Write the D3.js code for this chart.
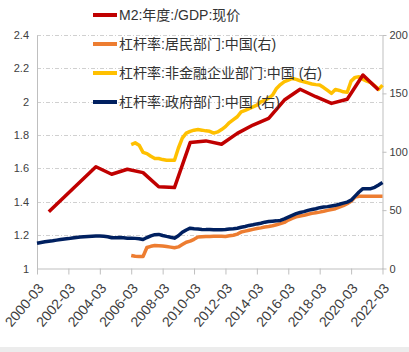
<!DOCTYPE html>
<html>
<head>
<meta charset="utf-8">
<script src="https://cdn.jsdelivr.net/npm/d3@7"></script>
<style>
  body { margin: 0; background: #fff; }
  svg { display: block; font-family: "Liberation Sans", Arial, "Noto Sans CJK SC", sans-serif; }
</style>
</head>
<body>
<svg id="chart" width="409" height="352"></svg>
<script>
// series names (legend)
const seriesNames = [
  "M2:年度:/GDP:现价",
  "杠杆率:居民部门:中国(右)",
  "杠杆率:非金融企业部门:中国 (右)",
  "杠杆率:政府部门:中国 (右)"
];

// M2/GDP, yearly (december), 2000 - 2021, left axis
const m2Years = [2000, 2001, 2002, 2003, 2004, 2005, 2006, 2007, 2008, 2009, 2010,
  2011, 2012, 2013, 2014, 2015, 2016, 2017, 2018, 2019, 2020, 2021];
const m2Values = [1.34, 1.43, 1.52, 1.61, 1.565, 1.595, 1.575, 1.49, 1.485, 1.755, 1.765,
  1.745, 1.81, 1.86, 1.90, 2.01, 2.075, 2.03, 1.99, 2.015, 2.16, 2.07];

// quarterly series (right axis)
// government: 2000-03 .. 2022-03
const govStart = "2000-03";
const govValues = [
  21.7, 22.3, 22.9, 23.4,
  23.8, 24.3, 24.8, 25.2,
  25.6, 26.1, 26.5, 26.9,
  27.2, 27.5, 27.7, 27.8,
  27.8, 27.6, 27.2, 26.4,
  26.4, 26.6, 26.3, 26.0,
  26.0, 25.8, 25.5, 24.8,
  26.5, 28.0, 29.0, 29.2,
  28.3, 27.5, 26.8, 26.0,
  28.0, 31.0, 33.0, 34.5,
  34.0, 33.8, 33.5, 33.3,
  33.3, 33.2, 33.2, 33.2,
  33.4, 33.8, 34.1, 34.5,
  35.3, 36.0, 36.9, 37.5,
  38.2, 38.8, 39.7, 40.2,
  40.5, 40.8, 41.2, 42.5,
  44.0, 45.5, 47.0, 48.0,
  48.7, 49.8, 50.5, 51.2,
  52.1, 52.6, 53.0, 53.6,
  54.1, 55.0, 56.0, 56.9,
  58.5, 62.0, 65.5, 68.4,
  68.4, 68.4, 69.5, 71.5,
  73.6
];
// household: 2006-03 .. 2022-03
const hhStart = "2006-03";
const hhValues = [
  11.2, 10.5, 10.3, 10.3,
  18.0, 19.0, 19.7, 19.5,
  19.2, 18.8, 18.3, 17.8,
  18.5, 20.5, 22.5, 23.4,
  25.0, 26.9, 27.2, 27.5,
  27.5, 27.6, 27.7, 27.6,
  27.5, 28.0, 28.5, 29.5,
  31.2, 32.0, 32.8, 33.5,
  34.2, 34.8, 35.5, 36.0,
  36.6, 37.5, 38.4, 39.5,
  41.5, 43.0, 44.2, 45.0,
  45.5, 46.5, 47.2, 47.8,
  48.3, 49.0, 49.8, 50.5,
  51.2, 52.5, 53.8, 55.5,
  57.5, 61.2, 61.8, 61.8,
  61.8, 61.8, 61.8, 61.8,
  61.8
];
// non-financial corporate: 2006-03 .. 2022-03
const corpStart = "2006-03";
const corpValues = [
  106.2, 107.6, 105.6, 99.5,
  98.4, 96.1, 94.2, 94.2,
  93.3, 92.7, 92.7, 92.7,
  103.0, 111.6, 115.9, 117.5,
  118.5, 119.0, 118.5, 117.9,
  117.5, 116.0, 117.0, 119.0,
  121.5, 125.0, 127.5, 130.0,
  134.2, 135.5, 137.0, 138.5,
  140.0, 142.8, 144.0, 146.0,
  148.5, 154.2, 157.5, 160.0,
  161.4, 162.8, 162.0, 160.8,
  160.0, 159.0, 158.0, 157.5,
  157.1, 155.0, 152.5, 150.0,
  153.4, 152.5, 151.3, 151.0,
  160.5, 163.7, 164.2, 162.0,
  160.5, 159.1, 156.5, 153.4,
  157.1
];

const xTickLabels = ["2000-03", "2002-03", "2004-03", "2006-03", "2008-03", "2010-03",
  "2012-03", "2014-03", "2016-03", "2018-03", "2020-03", "2022-03"];
const leftTicks = [1, 1.2, 1.4, 1.6, 1.8, 2, 2.2, 2.4];
const rightTicks = [0, 50, 100, 150, 200];

const colors = ["#C00000", "#ED7D31", "#FFC000", "#002060"];

const parseYM = d3.timeParse("%Y-%m");

// quarter dates from a start month
function quarterly(start, values) {
  const d0 = parseYM(start);
  return values.map((v, i) => ({ date: d3.timeMonth.offset(d0, i * 3), value: v }));
}

const m2Data = m2Years.map((y, i) => ({ date: new Date(y, 11, 1), value: m2Values[i] }));
const govData = quarterly(govStart, govValues);
const hhData = quarterly(hhStart, hhValues);
const corpData = quarterly(corpStart, corpValues);

const LEFT = 37, RIGHT = 382.5, TOP = 35, BOTTOM = 268.5;

const x = d3.scaleTime()
  .domain([parseYM(xTickLabels[0]), parseYM(xTickLabels[xTickLabels.length - 1])])
  .range([LEFT, RIGHT]);
const yL = d3.scaleLinear().domain([1, 2.4]).range([BOTTOM, TOP]);
const yR = d3.scaleLinear().domain([0, 200]).range([BOTTOM, TOP]);

const svg = d3.select("#chart");

// bottom frame strip
svg.append("rect").attr("x", 0).attr("y", 347).attr("width", 409).attr("height", 5).attr("fill", "#ececec");

// gridlines
svg.append("g")
  .selectAll("line")
  .data(leftTicks.slice(1))
  .join("line")
  .attr("x1", LEFT).attr("x2", RIGHT)
  .attr("y1", d => Math.round(yL(d)) + 0.5)
  .attr("y2", d => Math.round(yL(d)) + 0.5)
  .attr("stroke", "#d0d0d0")
  .attr("stroke-dasharray", "4,2,1,2");

// left axis
const axL = svg.append("g")
  .attr("transform", `translate(${LEFT},0)`)
  .call(d3.axisLeft(yL).tickValues(leftTicks).tickSize(0).tickPadding(8).tickFormat(d3.format("~g")));
axL.select(".domain").attr("stroke", "#bfbfbf");
axL.selectAll("text").attr("font-size", 11).attr("fill", "#404040");

// right axis
const axR = svg.append("g")
  .attr("transform", `translate(${RIGHT},0)`)
  .call(d3.axisRight(yR).tickValues(rightTicks).tickSize(4).tickPadding(3).tickSizeOuter(0));
axR.select(".domain").attr("stroke", "#bfbfbf");
axR.selectAll(".tick line").attr("stroke", "#bfbfbf");
axR.selectAll("text").attr("font-size", 11).attr("fill", "#404040");

// bottom axis
const axB = svg.append("g")
  .attr("transform", `translate(0,${BOTTOM})`)
  .call(d3.axisBottom(x).tickValues(xTickLabels.map(parseYM)).tickSize(6).tickSizeOuter(0)
    .tickFormat(d3.timeFormat("%Y-%m")));
axB.select(".domain").attr("stroke", "#bfbfbf");
axB.selectAll(".tick line").attr("stroke", "#bfbfbf");
axB.selectAll("text")
  .attr("font-size", 14)
  .attr("fill", "#404040")
  .attr("text-anchor", "end")
  .attr("dy", null)
  .attr("y", 0)
  .attr("transform", "translate(7,20) rotate(-50)");

// lines
const lineR = d3.line().x(d => x(d.date)).y(d => yR(d.value));
const lineL = d3.line().x(d => x(d.date)).y(d => yL(d.value));

const plotted = [
  { data: corpData, gen: lineR, color: colors[2] },
  { data: hhData, gen: lineR, color: colors[1] },
  { data: govData, gen: lineR, color: colors[3] },
  { data: m2Data, gen: lineL, color: colors[0] }
];
svg.append("g")
  .selectAll("path")
  .data(plotted)
  .join("path")
  .attr("d", d => d.gen(d.data))
  .attr("fill", "none")
  .attr("stroke", d => d.color)
  .attr("stroke-width", 3.5)
  .attr("stroke-linejoin", "round");

// legend
const legend = svg.append("g").attr("transform", "translate(93,15)");
const items = legend.selectAll("g")
  .data(seriesNames)
  .join("g")
  .attr("transform", (d, i) => `translate(0,${i * 29})`);
items.append("line")
  .attr("x1", 0).attr("x2", 24)
  .attr("stroke", (d, i) => colors[i])
  .attr("stroke-width", 4);
items.append("text")
  .attr("x", 26)
  .attr("dy", "0.35em")
  .attr("font-size", 14)
  .attr("fill", "#333")
  .text(d => d);
</script>
</body>
</html>
